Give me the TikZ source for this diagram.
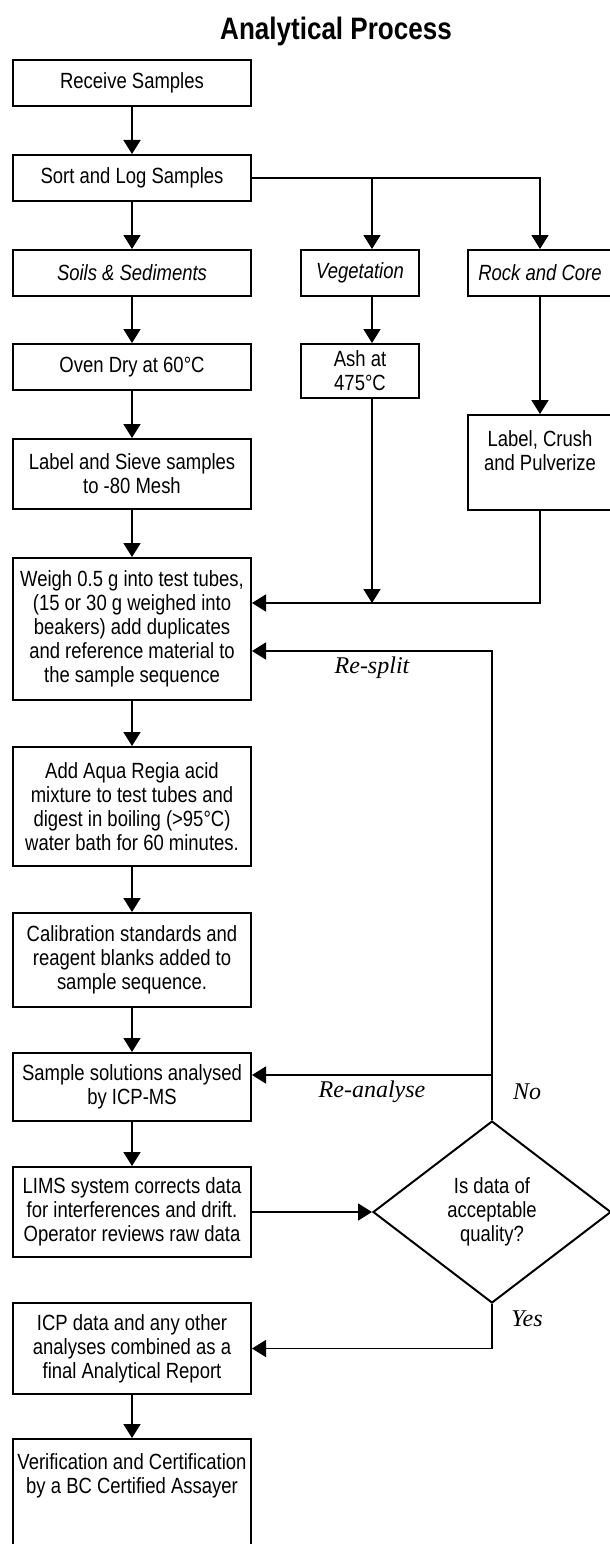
\documentclass[tikz,border=0pt]{standalone}
\usepackage{fontspec}
\setmainfont{Liberation Sans}[FakeStretch=0.84]
\newfontfamily\notefont{Liberation Serif}
\usetikzlibrary{positioning,shapes.geometric,arrows.meta}

\begin{document}
\begin{tikzpicture}[
    x=1pt, y=1pt,
    node distance=45pt,
    box/.style={rectangle, draw, line width=2pt, fill=white, minimum width=238pt, inner sep=0pt, align=center, font=\fontsize{22}{24}\selectfont},
    decision/.style={diamond, draw, line width=2pt, fill=white, minimum width=238pt, minimum height=182pt, aspect=1.3, inner sep=0pt, align=center, font=\fontsize{22}{24}\selectfont},
    flow/.style={-{Triangle[length=14pt,width=17pt]}, line width=1.8pt},
    note/.style={font=\notefont\itshape\fontsize{24}{28}\selectfont}
]

\useasboundingbox[fill=white] (0,0) rectangle (610,-1544);

% Title
\node[font=\fontsize{31}{36}\selectfont\bfseries] (title) at (336,-31) {Analytical Process};

% Main column
\node[box, minimum height=46pt, anchor=north] (receive) at (132,-59) {Receive Samples};
\node[box, minimum height=46pt, below=47pt of receive] (sort) {Sort and Log Samples};
\node[box, minimum height=46pt, below=47pt of sort] (soils) {\itshape Soils \& Sediments};
\node[box, minimum height=46pt, below=46pt of soils] (oven) {Oven Dry at 60°C};
\node[box, minimum height=70pt, below=47pt of oven] (sieve) {Label and Sieve samples\\to -80 Mesh};
\node[box, minimum height=142pt, below=47pt of sieve] (weigh) {Weigh 0.5 g into test tubes,\\(15 or 30 g weighed into\\beakers) add duplicates\\and reference material to\\the sample sequence};
\node[box, minimum height=119pt, below=of weigh] (aqua) {Add Aqua Regia acid\\mixture to test tubes and\\digest in boiling (>95°C)\\water bath for 60 minutes.};
\node[box, minimum height=94pt, below=of aqua] (calib) {Calibration standards and\\reagent blanks added to\\sample sequence.};
\node[box, minimum height=68pt, below=44pt of calib] (solutions) {Sample solutions analysed\\by ICP-MS};
\node[box, minimum height=90pt, below=44pt of solutions] (lims) {LIMS system corrects data\\for interferences and drift.\\Operator reviews raw data};
\node[box, minimum height=91pt, below=44pt of lims] (report) {ICP data and any other\\analyses combined as a\\final Analytical Report};
\node[box, minimum height=118pt, below=43pt of report] (assay) {Verification and Certification\\by a BC Certified Assayer\\\mbox{}\\\mbox{}};

% Other sample types
\node[box, minimum width=118pt, minimum height=46pt, right=48pt of soils] (veg) {\itshape Vegetation};
\node[box, minimum width=144pt, minimum height=46pt, right=47pt of veg] (rock) {\itshape Rock and Core};
\node[box, minimum width=118pt, minimum height=54pt, below=46pt of veg] (ash) {Ash at\\475°C};
\node[box, minimum width=144pt, minimum height=95pt, below=117pt of rock] (crush) {Label, Crush\\and Pulverize\\\mbox{}};

% Quality check
\node[decision, right=120pt of lims] (quality) {Is data of\\acceptable\\quality?};

% Helper points
\coordinate (vegline) at ([xshift=12pt]veg.north);
\coordinate (merge) at ([yshift=26pt]weigh.east);
\coordinate (resplit) at ([yshift=-22pt]weigh.east);
\coordinate (reanalyse) at ([yshift=12pt]solutions.east);

% Arrows
\draw[flow] (receive) -- (sort);
\draw[flow] (sort) -- (soils);
\draw[flow] (sort.east) -| (rock.north);
\draw[flow] (sort.east -| vegline) -- (vegline);
\draw[flow] (soils) -- (oven);
\draw[flow] (oven) -- (sieve);
\draw[flow] (sieve) -- (weigh);
\draw[flow] (veg.south -| vegline) -- (ash.north -| vegline);
\draw[flow] (rock) -- (crush);
\draw[flow] (ash.south -| vegline) -- (merge -| vegline);
\draw[flow] (crush.south) |- (merge);
\draw[flow] (weigh) -- (aqua);
\draw[flow] (aqua) -- (calib);
\draw[flow] (calib) -- (solutions);
\draw[flow] (solutions) -- (lims);
\draw[flow] (lims) -- (quality);
\draw[flow] (quality.north) |- (resplit);
\draw[flow] (quality.north |- reanalyse) -- (reanalyse);
\draw[flow] (quality.south) |- (report.east);
\draw[flow] (report) -- (assay);

% Loop labels
\node[note] (resplitnote) at ([yshift=-17pt]resplit -| vegline) {Re-split};
\node[note] (reanalysenote) at ([yshift=-17pt]reanalyse -| vegline) {Re-analyse};
\node[note] (nonote) at ([xshift=35pt,yshift=-17pt]quality.north |- reanalyse) {No};
\node[note] (yesnote) at ([xshift=35pt,yshift=-15pt]quality.south) {Yes};

\end{tikzpicture}
\end{document}
